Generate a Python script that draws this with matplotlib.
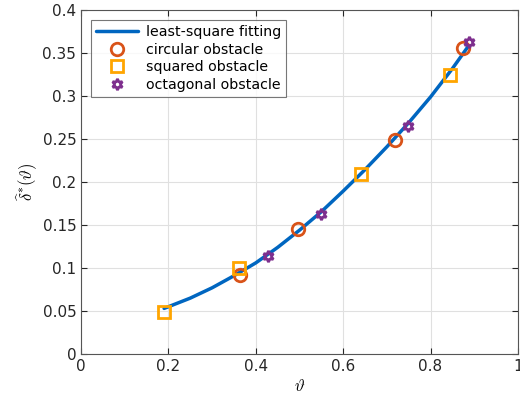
import numpy as np
import matplotlib.pyplot as plt

# fitted curve
fit_x = [0.19, 0.25, 0.30, 0.35, 0.40, 0.45, 0.50, 0.55, 0.60, 0.65, 0.70, 0.75, 0.80, 0.85, 0.885]
fit_y = [0.053, 0.065, 0.077, 0.091, 0.106, 0.124, 0.144, 0.1655, 0.1895, 0.2145, 0.241, 0.269, 0.299, 0.332, 0.357]

# measured points
circ_x = [0.364, 0.497, 0.719, 0.874]
circ_y = [0.092, 0.145, 0.249, 0.356]
sq_x = [0.190, 0.362, 0.641, 0.844]
sq_y = [0.049, 0.100, 0.209, 0.324]
oct_x = [0.428, 0.549, 0.748, 0.888]
oct_y = [0.114, 0.163, 0.265, 0.363]

plt.rcParams['font.family'] = 'DejaVu Sans'
plt.rcParams['mathtext.fontset'] = 'cm'

fig = plt.figure(figsize=(5.2, 4.05), dpi=100)
ax = fig.add_axes([0.156, 0.126, 0.84, 0.849])

ax.plot(fit_x, fit_y, color='#0066C0', lw=2.5, label='least-square fitting', zorder=3,
        solid_capstyle='round', solid_joinstyle='round')
ax.plot(circ_x, circ_y, 'o', ms=9, mfc='none', mec='#D95319', mew=2, label='circular obstacle', zorder=4)
ax.plot(sq_x, sq_y, 's', ms=8, mfc='none', mec='#FFA500', mew=2, label='squared obstacle', zorder=4)
ax.plot(oct_x, oct_y, marker=(6, 1, 0), ls='none', ms=8, mfc='none', mec='#7E2F8E', mew=2,
        label='octagonal obstacle', zorder=4)

ax.set_xlim(0, 1)
ax.set_ylim(0, 0.4)
ax.set_xticks(np.arange(0, 1.01, 0.2))
ax.set_xticklabels(['0', '0.2', '0.4', '0.6', '0.8', '1'])
ax.set_yticks(np.arange(0, 0.401, 0.05))
ax.set_yticklabels(['0', '0.05', '0.1', '0.15', '0.2', '0.25', '0.3', '0.35', '0.4'])
ax.grid(True, color='#e0e0e0', lw=0.8)
ax.set_axisbelow(True)
ax.tick_params(direction='in', top=True, right=True, labelsize=11, colors='#262626', length=4)
for s in ax.spines.values():
    s.set_color('#555555')
    s.set_linewidth(0.8)

ax.set_xlabel(r'$\vartheta$', fontsize=12, labelpad=2)
ax.set_ylabel(r'$\widehat{\delta}^{*}(\vartheta)$', fontsize=12, labelpad=2)

leg = ax.legend(loc='upper left', fontsize=10.2, frameon=True, fancybox=False, edgecolor='#555555',
                handlelength=3.0, borderpad=0.35, labelspacing=0.25, borderaxespad=0.7, handletextpad=0.5)
leg.get_frame().set_linewidth(0.8)

fig.savefig('out.png', dpi=100)
